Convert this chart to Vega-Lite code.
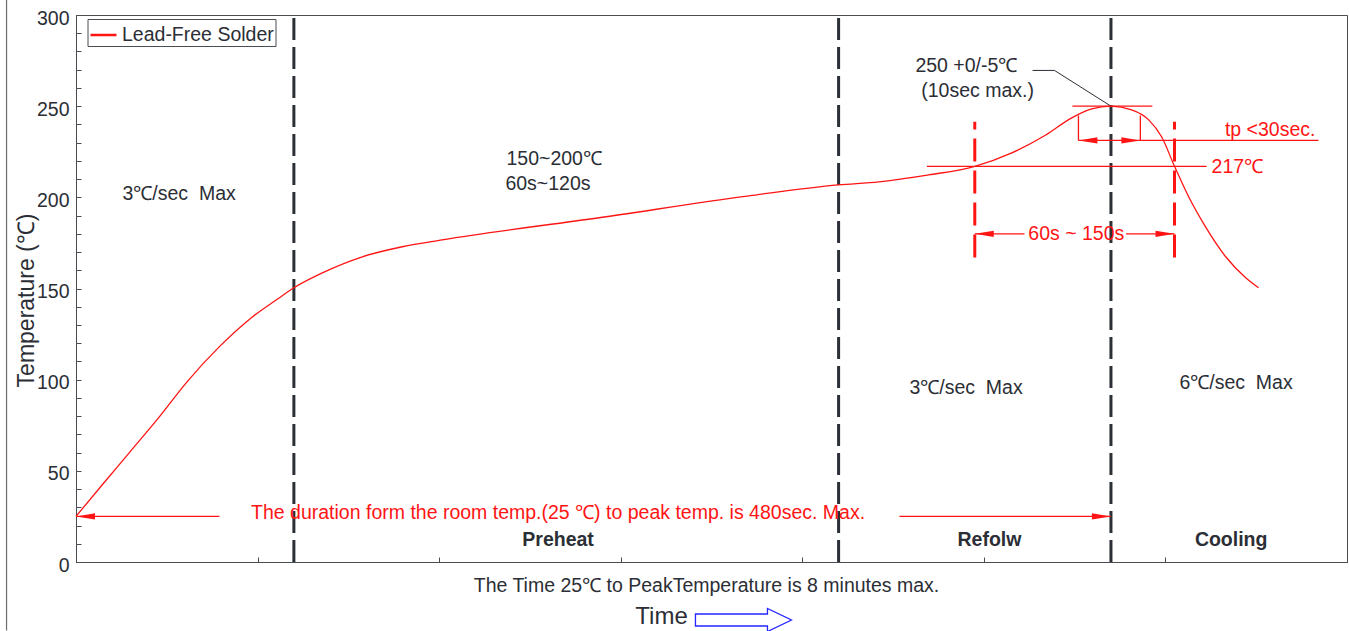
{
  "$schema": "https://vega.github.io/schema/vega-lite/v6.json",
  "width": 1271,
  "height": 547,
  "autosize": "none",
  "padding": {"left": 76, "top": 15, "right": 2, "bottom": 69},
  "background": "white",
  "config": {
    "view": {"stroke": "#4a4d52", "strokeWidth": 1},
    "font": "Liberation Sans",
    "text": {"font": "Liberation Sans", "fontSize": 19.5}
  },
  "datasets": {
    "curve": [
      {"t": 0, "temp": 25, "series": "Lead-Free Solder"},
      {"t": 0.146, "temp": 42.5, "series": "Lead-Free Solder"},
      {"t": 0.294, "temp": 60, "series": "Lead-Free Solder"},
      {"t": 0.46, "temp": 79.7, "series": "Lead-Free Solder"},
      {"t": 0.608, "temp": 98.4, "series": "Lead-Free Solder"},
      {"t": 0.79, "temp": 118.1, "series": "Lead-Free Solder"},
      {"t": 0.966, "temp": 134, "series": "Lead-Free Solder"},
      {"t": 1.104, "temp": 143.8, "series": "Lead-Free Solder"},
      {"t": 1.2, "temp": 150.4, "series": "Lead-Free Solder"},
      {"t": 1.357, "temp": 158.6, "series": "Lead-Free Solder"},
      {"t": 1.577, "temp": 167.4, "series": "Lead-Free Solder"},
      {"t": 1.797, "temp": 172.9, "series": "Lead-Free Solder"},
      {"t": 2.017, "temp": 176.7, "series": "Lead-Free Solder"},
      {"t": 2.881, "temp": 188.8, "series": "Lead-Free Solder"},
      {"t": 3.707, "temp": 200.8, "series": "Lead-Free Solder"},
      {"t": 4.2, "temp": 206.8, "series": "Lead-Free Solder"},
      {"t": 4.422, "temp": 208.5, "series": "Lead-Free Solder"},
      {"t": 4.697, "temp": 212.3, "series": "Lead-Free Solder"},
      {"t": 4.95, "temp": 217, "series": "Lead-Free Solder"},
      {"t": 5.154, "temp": 224.4, "series": "Lead-Free Solder"},
      {"t": 5.341, "temp": 234.2, "series": "Lead-Free Solder"},
      {"t": 5.484, "temp": 243.6, "series": "Lead-Free Solder"},
      {"t": 5.594, "temp": 248.5, "series": "Lead-Free Solder"},
      {"t": 5.7, "temp": 250, "series": "Lead-Free Solder"},
      {"t": 5.814, "temp": 248, "series": "Lead-Free Solder"},
      {"t": 5.908, "temp": 242.5, "series": "Lead-Free Solder"},
      {"t": 5.979, "temp": 233.2, "series": "Lead-Free Solder"},
      {"t": 6.05, "temp": 217, "series": "Lead-Free Solder"},
      {"t": 6.128, "temp": 200.3, "series": "Lead-Free Solder"},
      {"t": 6.221, "temp": 183.8, "series": "Lead-Free Solder"},
      {"t": 6.332, "temp": 167.4, "series": "Lead-Free Solder"},
      {"t": 6.442, "temp": 155.9, "series": "Lead-Free Solder"},
      {"t": 6.513, "temp": 150.4, "series": "Lead-Free Solder"}
    ],
    "phaseBounds": [
      {"t": 1.2, "temp": 0, "temp2": 300},
      {"t": 4.2, "temp": 0, "temp2": 300},
      {"t": 5.7, "temp": 0, "temp2": 300}
    ],
    "liquidus": [
      {"t": 4.95, "temp": 167, "temp2": 241.5},
      {"t": 6.05, "temp": 167, "temp2": 241.5}
    ],
    "redSegments": [
      {"t": 4.686, "t2": 6.227, "temp": 217, "temp2": 217},
      {"t": 5.488, "t2": 5.928, "temp": 250, "temp2": 250},
      {"t": 5.521, "t2": 5.521, "temp": 244.9, "temp2": 231.2},
      {"t": 5.862, "t2": 5.862, "temp": 244.9, "temp2": 231.2},
      {"t": 5.521, "t2": 6.843, "temp": 231.2, "temp2": 231.2},
      {"t": 4.95, "t2": 5.224, "temp": 180, "temp2": 180},
      {"t": 5.783, "t2": 6.05, "temp": 180, "temp2": 180},
      {"t": 0, "t2": 0.79, "temp": 25, "temp2": 25},
      {"t": 4.535, "t2": 5.7, "temp": 25, "temp2": 25}
    ],
    "arrowHeads": [
      {"t": 0, "temp": 25, "dir": "left"},
      {"t": 5.7, "temp": 25, "dir": "right"},
      {"t": 4.95, "temp": 180, "dir": "left"},
      {"t": 6.05, "temp": 180, "dir": "right"},
      {"t": 5.521, "temp": 231.2, "dir": "left"},
      {"t": 5.862, "temp": 231.2, "dir": "right"}
    ],
    "leader": [
      {"t": 5.268, "temp": 269.6, "o": 1},
      {"t": 5.389, "temp": 269.6, "o": 2},
      {"t": 5.7, "temp": 250, "o": 3}
    ],
    "notes": [
      {"t": 0.256, "temp": 201.6, "text": "3℃/sec\u00a0 Max"},
      {"t": 2.371, "temp": 220.8, "text": "150~200℃"},
      {"t": 2.365, "temp": 207.1, "text": "60s~120s"},
      {"t": 4.59, "temp": 95.7, "text": "3℃/sec\u00a0 Max"},
      {"t": 6.077, "temp": 98.4, "text": "6℃/sec\u00a0 Max"},
      {"t": 4.623, "temp": 272.3, "text": "250 +0/-5℃"},
      {"t": 4.655, "temp": 258.2, "text": "(10sec max.)"}
    ],
    "phases": [
      {"t": 2.655, "temp": 12.3, "text": "Preheat"},
      {"t": 5.031, "temp": 12.3, "text": "Refolw"},
      {"t": 6.362, "temp": 12.3, "text": "Cooling"}
    ],
    "redCenter": [
      {"t": 2.655, "temp": 27, "text": "The duration form the room temp.(25 ℃) to peak temp. is 480sec. Max."},
      {"t": 5.509, "temp": 180, "text": "60s ~ 150s"}
    ],
    "redLeft": [
      {"t": 6.254, "temp": 216.5, "text": "217℃"}
    ],
    "redRight": [
      {"t": 6.826, "temp": 237.2, "text": "tp <30sec."}
    ],
    "timeLabel": [
      {"t": 3.225, "temp": -30.2, "text": "Time"}
    ],
    "timeArrow": [
      {"t": 3.676, "temp": -31.8}
    ],
    "pageEdge": [
      {"t": -0.3825, "temp": -37.6, "temp2": 308.5}
    ]
  },
  "encoding": {
    "x": {
      "field": "t",
      "type": "quantitative",
      "scale": {"domain": [0, 7], "nice": false, "zero": false},
      "axis": {
        "values": [0, 1, 2, 3, 4, 5, 6, 7],
        "labels": false,
        "tickSize": -5,
        "grid": false,
        "domainColor": "#4a4d52",
        "tickColor": "#4a4d52",
        "title": "The Time 25℃ to PeakTemperature is 8 minutes max.",
        "titleFont": "Liberation Sans",
        "titleFontSize": 19.5,
        "titleFontWeight": "normal",
        "titleColor": "#2b2e35",
        "titleX": 630,
        "titleY": 23,
        "titleAlign": "center",
        "titleBaseline": "middle"
      }
    },
    "y": {
      "field": "temp",
      "type": "quantitative",
      "scale": {"domain": [0, 300], "nice": false, "zero": false},
      "axis": {
        "values": [0, 10, 20, 30, 40, 50, 60, 70, 80, 90, 100, 110, 120, 130, 140, 150, 160, 170, 180, 190, 200, 210, 220, 230, 240, 250, 260, 270, 280, 290, 300],
        "labelExpr": "datum.value % 50 == 0 ? datum.label : ''",
        "tickSize": -5,
        "labelPadding": 12,
        "labelOffset": 3,
        "labelFont": "Liberation Sans",
        "labelFontSize": 19.5,
        "labelColor": "#2b2e35",
        "grid": false,
        "domainColor": "#4a4d52",
        "tickColor": "#4a4d52",
        "title": "Temperature (℃)",
        "titleFont": "Liberation Sans",
        "titleFontSize": 23,
        "titleFontWeight": "normal",
        "titleColor": "#2b2e35",
        "titleX": -50,
        "titleY": 285,
        "titleAngle": -90,
        "titleAlign": "center",
        "titleBaseline": "middle"
      }
    }
  },
  "layer": [
    {
      "data": {"name": "pageEdge"},
      "mark": {"type": "rule", "color": "#6a6d72", "strokeWidth": 1.2},
      "encoding": {"y2": {"field": "temp2"}}
    },
    {
      "data": {"name": "phaseBounds"},
      "mark": {"type": "rule", "color": "#2b2f36", "strokeWidth": 3, "strokeDash": [22, 7]},
      "encoding": {"y2": {"field": "temp2"}}
    },
    {
      "data": {"name": "liquidus"},
      "mark": {"type": "rule", "color": "#ff1414", "strokeWidth": 3, "strokeDash": [23, 9]},
      "encoding": {"y2": {"field": "temp2"}}
    },
    {
      "data": {"name": "redSegments"},
      "mark": {"type": "rule", "color": "#ff1414", "strokeWidth": 1.3},
      "encoding": {"x2": {"field": "t2"}, "y2": {"field": "temp2"}}
    },
    {
      "data": {"name": "arrowHeads"},
      "mark": {"type": "point", "filled": true, "opacity": 1, "color": "#ff1414", "size": 361},
      "encoding": {
        "shape": {
          "field": "dir",
          "type": "nominal",
          "scale": {"domain": ["left", "right"], "range": ["M0,0L2,-0.33L2,0.33Z", "M0,0L-2,-0.33L-2,0.33Z"]},
          "legend": null
        }
      }
    },
    {
      "data": {"name": "leader"},
      "mark": {"type": "line", "color": "#2b2e35", "strokeWidth": 1},
      "encoding": {"order": {"field": "o", "type": "quantitative"}}
    },
    {
      "data": {"name": "curve"},
      "mark": {"type": "line", "strokeWidth": 1.3, "interpolate": "monotone"},
      "encoding": {
        "color": {
          "field": "series",
          "type": "nominal",
          "scale": {"range": ["#ff1414"]},
          "legend": {
            "title": null,
            "orient": "none",
            "legendX": 11.5,
            "legendY": 4,
            "symbolType": "stroke",
            "symbolSize": 676,
            "symbolStrokeWidth": 2.5,
            "labelFont": "Liberation Sans",
            "labelFontSize": 19.5,
            "labelColor": "#2b2e35",
            "labelOffset": 4,
            "padding": 1.5,
            "strokeColor": "#4a4d52",
            "fillColor": "white"
          }
        }
      }
    },
    {
      "data": {"name": "notes"},
      "mark": {"type": "text", "align": "left", "baseline": "middle", "color": "#2b2e35", "fontSize": 19.5},
      "encoding": {"text": {"field": "text"}}
    },
    {
      "data": {"name": "phases"},
      "mark": {"type": "text", "align": "center", "baseline": "middle", "color": "#2b2e35", "fontSize": 19.5, "fontWeight": "bold"},
      "encoding": {"text": {"field": "text"}}
    },
    {
      "data": {"name": "redCenter"},
      "mark": {"type": "text", "align": "center", "baseline": "middle", "color": "#ff1414", "fontSize": 19.5},
      "encoding": {"text": {"field": "text"}}
    },
    {
      "data": {"name": "redLeft"},
      "mark": {"type": "text", "align": "left", "baseline": "middle", "color": "#ff1414", "fontSize": 19.5},
      "encoding": {"text": {"field": "text"}}
    },
    {
      "data": {"name": "redRight"},
      "mark": {"type": "text", "align": "right", "baseline": "middle", "color": "#ff1414", "fontSize": 19.5},
      "encoding": {"text": {"field": "text"}}
    },
    {
      "data": {"name": "timeLabel"},
      "mark": {"type": "text", "align": "center", "baseline": "middle", "color": "#2b2e35", "fontSize": 24},
      "encoding": {"text": {"field": "text"}}
    },
    {
      "data": {"name": "timeArrow"},
      "mark": {"type": "point", "filled": false, "color": "#2424ff", "strokeWidth": 1.3, "opacity": 1, "size": 9216, "shape": "M-1,-0.125L0.5,-0.125L0.5,-0.24L1,0L0.5,0.24L0.5,0.125L-1,0.125Z"}
    }
  ]
}
